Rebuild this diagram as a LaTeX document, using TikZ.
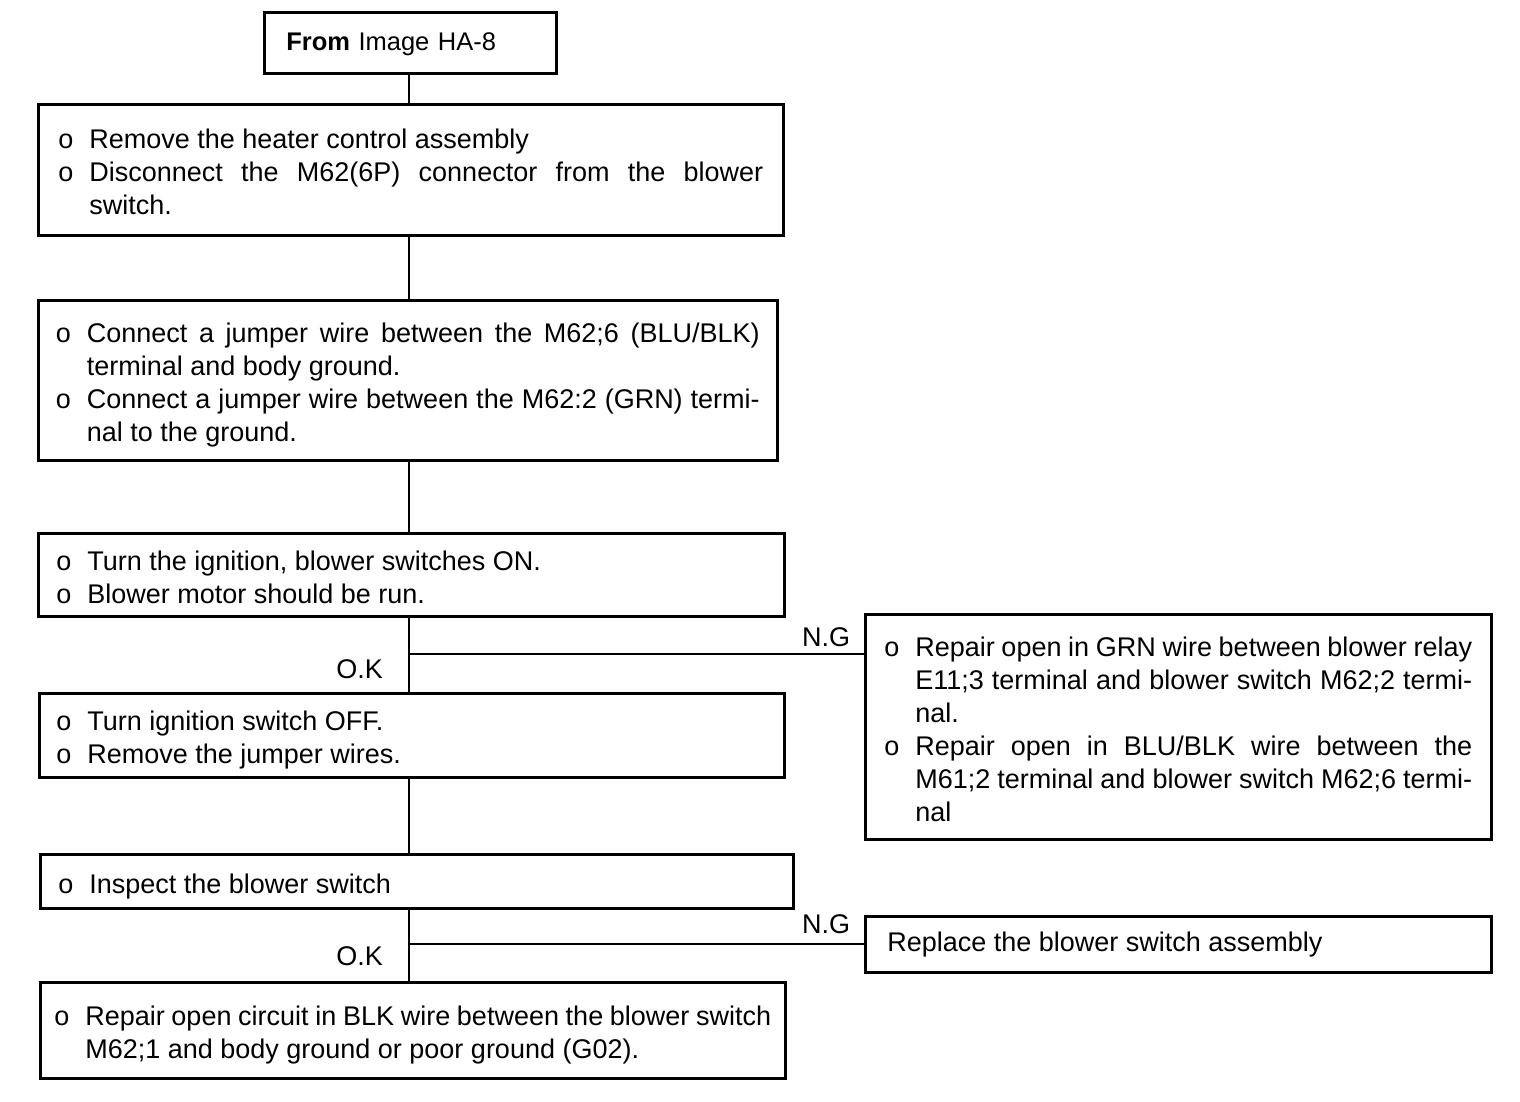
\documentclass[tikz,border=0pt]{standalone}
\usepackage{fontspec}
\setmainfont{Liberation Sans}
\usetikzlibrary{positioning,calc}
\tolerance=9999

% fixed line strut, and an item with an "o" bullet and hanging indent
\newcommand{\lstrut}{\rule[-9pt]{0pt}{33pt}}
\newcommand{\itm}[1]{\par\noindent\hangindent=31pt\hangafter=1\makebox[31pt][l]{o}\lstrut#1\lstrut\par}

\begin{document}
\begin{tikzpicture}[
  x=1pt, y=-1pt,
  box/.style={draw, line width=2.6pt, rectangle, anchor=north west, align=justify,
    inner ysep=0pt, font=\fontsize{27}{33}\selectfont},
  link/.style={line width=2pt},
  lab/.style={font=\fontsize{27}{33}\selectfont, inner sep=0pt}
]
  \useasboundingbox (0,0) rectangle (1520,1102);

  % --- main column ------------------------------------------------------
  \node[box, align=left, text width=248pt, inner xsep=22pt, minimum height=61pt,
    font=\fontsize{25.5}{33}\selectfont]
    (from) at (263,11) {\lstrut\textbf{From} Image HA-8};
  \node[box, text width=705pt, inner xsep=20pt, minimum height=131pt] (remove) at (37,103)
    {\itm{Remove the heater control assembly}
     \itm{Disconnect the M62(6P) connector from the blower\linebreak switch.}};
  \node[box, text width=704pt, inner xsep=17.5pt, minimum height=160pt] (jumper) at (37,299)
    {\itm{Connect a jumper wire between the M62;6 (BLU/BLK)\linebreak terminal and body ground.}
     \itm{Connect a jumper wire between the M62:2 (GRN) termi-\linebreak nal to the ground.}};
  \node[box, text width=710pt, inner xsep=18pt, minimum height=83pt] (ignon) at (37,532)
    {\itm{Turn the ignition, blower switches ON.}
     \itm{Blower motor should be run.}};
  \node[box, text width=711pt, inner xsep=17pt, minimum height=84pt] (ignoff) at (38,692)
    {\itm{Turn ignition switch OFF.}
     \itm{Remove the jumper wires.}};
  \node[box, text width=717pt, inner xsep=18pt, minimum height=54pt] (inspect) at (39,853)
    {\itm{Inspect the blower switch}};
  \node[box, text width=717pt, inner xsep=14pt, minimum height=96pt] (ground) at (39,981)
    {\itm{Repair open circuit in BLK wire between the blower switch\linebreak M62;1 and body ground or poor ground (G02).}};

  % --- N.G branches -----------------------------------------------------
  \node[box, text width=588pt, inner xsep=19pt, minimum height=225pt] (wires) at (864,613)
    {\itm{Repair open in GRN wire between blower relay\linebreak E11;3 terminal and blower switch M62;2 termi-\linebreak nal.}
     \itm{Repair open in BLU/BLK wire between the\linebreak M61;2 terminal and blower switch M62;6 termi-\linebreak nal}};
  \node[box, text width=582pt, inner xsep=22pt, minimum height=56pt] (replace) at (864,915)
    {\lstrut Replace the blower switch assembly};

  % --- connectors -------------------------------------------------------
  \coordinate (spine) at (409,0);
  \coordinate (fork1) at (409,654);
  \coordinate (fork2) at (409,944);
  \draw[link] (from.south -| spine) -- (remove.north -| spine);
  \draw[link] (remove.south -| spine) -- (jumper.north -| spine);
  \draw[link] (jumper.south -| spine) -- (ignon.north -| spine);
  \draw[link] (ignon.south -| spine) -- (ignoff.north -| spine);
  \draw[link] (ignoff.south -| spine) -- (inspect.north -| spine);
  \draw[link] (inspect.south -| spine) -- (ground.north -| spine);

  \draw[link] (fork1) -- (fork1 -| wires.west)
    node[lab, anchor=south east, xshift=-13pt, yshift=6pt] (ng1) {N.G};
  \node[lab, anchor=north east, xshift=-26pt, yshift=-5pt] (ok1) at (fork1) {O.K};

  \draw[link] (fork2) -- (fork2 -| replace.west)
    node[lab, anchor=south east, xshift=-13pt, yshift=9pt] (ng2) {N.G};
  \node[lab, anchor=north east, xshift=-26pt, yshift=-2pt] (ok2) at (fork2) {O.K};
\end{tikzpicture}
\end{document}
